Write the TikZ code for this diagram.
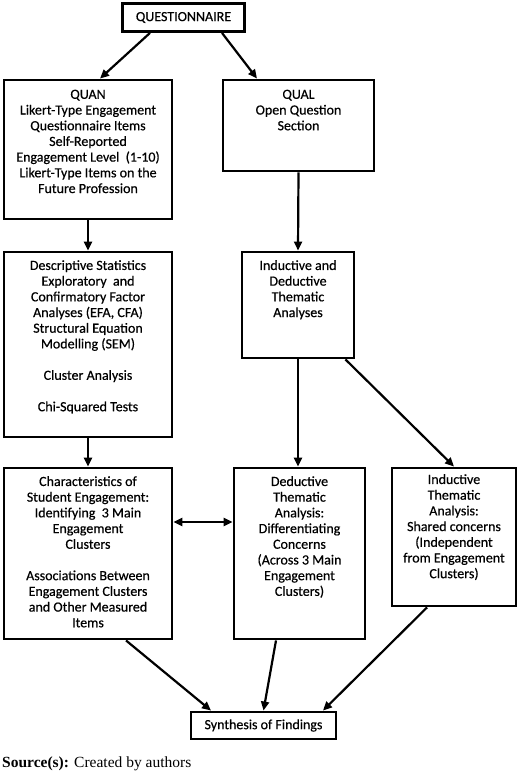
\documentclass[tikz,border=0pt]{standalone}
\usepackage{fontspec}
\setmainfont{Liberation Serif}
\newfontfamily\boxfont{Carlito}[FakeBold=0.5]
\usetikzlibrary{arrows.meta,positioning}
\begin{document}
\begin{tikzpicture}[x=1pt,y=1pt,
  box/.style={draw, line width=2.9pt, inner sep=0pt},
  txt/.style={align=center, inner sep=0pt, font=\boxfont\fontsize{14}{15.7}\selectfont},
  arr/.style={-{Triangle[length=9pt,width=8pt]}, line width=2.2pt}]
\useasboundingbox (0,0) rectangle (520,771);
% boxes
\node[box, txt, minimum width=122, minimum height=28] (qst) at (183.5,753.5) {QUESTIONNAIRE};
\node[box, minimum width=168, minimum height=139] (quan) at (88,621.5) {};
\node[box, minimum width=151, minimum height=91] (qual) at (298.5,645.5) {};
\node[box, minimum width=168, minimum height=185] (desc) at (88,426.5) {};
\node[box, minimum width=112, minimum height=106] (indded) at (298,466) {};
\node[box, minimum width=168, minimum height=171] (chr) at (88,217.5) {};
\node[box, minimum width=131, minimum height=171] (ded) at (299.5,217.5) {};
\node[box, minimum width=124, minimum height=138] (ind) at (454,234) {};
\node[box, txt, minimum width=145, minimum height=27] (syn) at (263.5,45.5) {Synthesis of Findings};
% texts
\node[txt, below=11pt of quan.north] (quantxt) {QUAN\\Likert-Type Engagement\\Questionnaire Items\\Self-Reported\\Engagement Level~ (1-10)\\Likert-Type Items on the\\Future Profession};
\node[txt, below=11pt of qual.north] (qualtxt) {QUAL\\Open Question\\Section};
\node[txt, below=9.5pt of desc.north] (desctxt) {Descriptive Statistics\\Exploratory~ and\\Confirmatory Factor\\Analyses (EFA, CFA)\\Structural Equation\\Modelling (SEM)\\[15.7pt]Cluster Analysis\\[15.7pt]Chi-Squared Tests};
\node[txt, below=9.5pt of indded.north] (inddedtxt) {Inductive and\\Deductive\\Thematic\\Analyses};
\node[txt, below=9.5pt of chr.north] (chrtxt) {Characteristics of\\Student Engagement:\\Identifying~ 3 Main\\Engagement\\Clusters\\[15.7pt]Associations Between\\Engagement Clusters\\and Other Measured\\Items};
\node[txt, below=9.5pt of ded.north] (dedtxt) {Deductive\\Thematic\\Analysis:\\Differentiating\\Concerns\\(Across 3 Main\\Engagement\\Clusters)};
\node[txt, below=7.5pt of ind.north] (indtxt) {Inductive\\Thematic\\Analysis:\\Shared concerns\\(Independent\\from Engagement\\Clusters)};
% connectors
\draw[arr] ([xshift=-33.5pt]qst.south) -- ([xshift=12pt]quan.north);
\draw[arr] ([xshift=38.5pt]qst.south) -- ([xshift=-41.5pt]qual.north);
\draw[arr] (quan.south) -- (desc.north);
\draw[arr] (qual.south) -- (indded.north);
\draw[arr] (desc.south) -- (chr.north);
\draw[arr] (indded.south) -- (indded.south |- ded.north);
\draw[arr] ([xshift=-10pt]indded.south east) -- (ind.north);
\draw[{Triangle[length=9pt,width=8pt]}-{Triangle[length=9pt,width=8pt]}, line width=2.2pt] ([yshift=31.5pt]chr.east) -- ([yshift=31.5pt]ded.west);
\draw[arr] ([xshift=38pt]chr.south) -- ([xshift=-52.5pt]syn.north);
\draw[arr] ([xshift=-23.5pt]ded.south) -- (syn.north);
\draw[arr] ([xshift=-27pt]ind.south) -- ([xshift=59.5pt]syn.north);
% source line
\node[anchor=base west, inner sep=0pt, font=\fontsize{15.5}{17}\selectfont] (src) at (2,4) {\textbf{Source(s):} Created by authors};
\end{tikzpicture}
\end{document}
